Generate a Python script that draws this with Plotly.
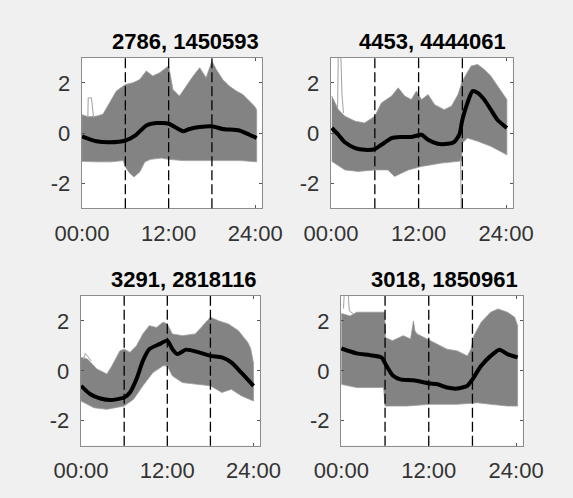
import plotly.graph_objects as go

# ---------------- data (hours of day, normalised values) ----------------
titles = ["2786, 1450593", "4453, 4444061", "3291, 2818116", "3018, 1850961"]
xtick_vals = [0, 12, 24]
xtick_text = ["00:00", "12:00", "24:00"]
ytick_vals = [-2, 0, 2]
ytick_text = ["-2", "0", "2"]
split_hours = [6, 12, 18]

# panel 1 (top left)
p1_up_h = [0.0, 0.8, 2.0, 2.9, 3.4, 4.75, 6.0, 7.06, 8.0, 8.9, 9.8, 10.75, 12.0, 12.6, 13.5, 14.4,
           15.4, 16.3, 17.2, 18.0, 18.6, 19.5, 20.4, 21.4, 22.3, 23.2, 23.9, 24.2]
p1_up = [0.73, 0.65, 0.67, 0.75, 1.0, 1.67, 1.93, 2.0, 2.13, 2.47, 2.27, 2.4, 2.67, 1.73, 1.47, 1.87,
         2.27, 2.6, 2.2, 2.87, 2.53, 2.13, 1.87, 1.67, 1.53, 1.27, 1.07, 0.93]
p1_lo_h = [0.0, 2.0, 4.0, 5.7, 6.0, 6.6, 7.2, 8.0, 8.7, 9.5, 11.0, 12.0, 14.0, 16.0, 18.0, 20.0, 22.0, 24.2]
p1_lo = [-1.13, -1.15, -1.15, -1.1, -1.35, -1.6, -1.75, -1.55, -1.15, -1.05, -1.0, -1.05, -1.1, -1.08,
         -1.1, -1.1, -1.1, -1.15]
p1_mean_h = [0.0, 2.0, 3.8, 6.0, 7.5, 8.9, 10.3, 12.0, 13.1, 14.0, 14.9, 16.3, 18.0, 19.5, 21.8, 23.2, 24.2]
p1_mean = [-0.13, -0.33, -0.37, -0.3, -0.07, 0.3, 0.4, 0.37, 0.2, 0.07, 0.16, 0.24, 0.27, 0.16, 0.1, -0.07, -0.2]
p1_out_h = [0.8, 0.85, 1.3, 1.5, 1.6]
p1_out = [0.6, 1.4, 1.4, 0.8, 0.6]

# panel 2 (top right)
p2_up_h = [0.1, 1.0, 1.9, 3.3, 4.6, 6.0, 6.9, 8.3, 9.2, 10.1, 11.0, 11.7, 12.4, 13.3, 14.2, 15.5,
           16.5, 17.4, 18.0, 19.2, 20.1, 21.0, 21.9, 22.8, 24.1]
p2_up = [1.47, 0.93, 0.67, 0.47, 0.4, 0.67, 1.2, 1.47, 1.8, 1.47, 1.33, 1.67, 1.33, 1.53, 1.13, 0.93,
         1.07, 1.53, 2.07, 2.67, 2.73, 2.53, 2.27, 1.87, 1.33]
p2_lo_h = [0.1, 1.9, 3.7, 6.0, 7.8, 8.7, 10.6, 12.4, 15.1, 17.4, 17.9, 18.0, 18.7, 20.1, 21.9, 24.1]
p2_lo = [-1.13, -1.47, -1.53, -1.47, -1.47, -1.73, -1.47, -1.33, -1.2, -1.13, -1.1, -0.4, -0.2, -0.33,
         -0.53, -0.87]
p2_mean_h = [0.1, 1.0, 1.9, 3.3, 4.6, 6.0, 6.9, 8.3, 9.6, 11.0, 12.4, 13.3, 14.6, 16.0, 16.9, 17.6, 18.0,
             18.7, 19.4, 20.1, 21.0, 21.9, 22.8, 24.1]
p2_mean = [0.2, -0.07, -0.37, -0.6, -0.67, -0.64, -0.47, -0.2, -0.16, -0.16, -0.07, -0.27, -0.43, -0.43,
           -0.35, -0.05, 0.53, 1.2, 1.67, 1.6, 1.33, 0.93, 0.53, 0.2]
p2_out_h = [0.9, 1.0, 1.3, 1.5, 1.7]
p2_out = [1.0, 3.5, 3.5, 1.5, 0.8]
p2_drop_h = [17.75, 17.85]
p2_drop = [-1.0, -3.2]

# panel 3 (bottom left)
p3_up_h = [0.0, 0.9, 2.2, 3.6, 4.3, 5.4, 6.0, 6.8, 7.7, 8.6, 9.5, 10.5, 11.4, 12.0, 12.7, 14.1, 15.9,
           17.3, 18.0, 19.1, 20.5, 21.9, 23.2, 23.6, 24.0]
p3_up = [0.54, 0.47, 0.07, -0.13, 0.2, 0.8, 0.87, 0.74, 1.0, 1.48, 1.81, 1.74, 1.95, 1.88, 1.48, 1.41,
         1.48, 1.95, 2.15, 2.01, 1.88, 1.61, 1.14, 0.9, 0.3]
p3_lo_h = [0.0, 1.8, 3.6, 6.0, 7.3, 8.6, 10.0, 11.4, 12.0, 12.7, 14.1, 15.9, 18.0, 19.6, 20.9, 22.3, 24.0]
p3_lo = [-1.21, -1.48, -1.54, -1.41, -1.14, -0.6, -0.07, 0.2, 0.2, -0.2, -0.47, -0.54, -0.6, -0.87, -0.74,
         -1.0, -1.21]
p3_mean_h = [0.0, 1.3, 2.7, 4.1, 6.0, 6.8, 7.7, 8.6, 9.5, 10.9, 12.0, 12.7, 13.4, 14.6, 16.4, 18.0, 19.6,
             20.9, 22.3, 24.0]
p3_mean = [-0.6, -0.94, -1.11, -1.17, -1.07, -0.87, -0.34, 0.4, 0.87, 1.07, 1.21, 0.87, 0.67, 0.85, 0.74,
           0.6, 0.54, 0.34, -0.07, -0.6]
p3_out_h = [0.3, 0.6, 1.0, 1.4]
p3_out = [0.45, 0.7, 0.55, 0.4]

# panel 4 (bottom right)
p4_up_h = [0.0, 1.2, 2.1, 5.7, 5.95, 6.05, 7.0, 8.5, 9.5, 9.9, 10.1, 10.4, 11.8, 13.2, 14.5, 15.9, 17.3,
           17.8, 18.2, 19.2, 20.5, 21.5, 22.8, 23.8, 24.2]
p4_up = [2.3, 2.2, 2.35, 2.35, 2.35, 1.34, 1.21, 1.41, 1.28, 2.0, 1.6, 1.48, 1.28, 1.07, 0.87, 0.8, 0.6,
         0.87, 1.41, 1.95, 2.35, 2.48, 2.35, 2.15, 1.81]
p4_lo_h = [0.0, 2.1, 5.8, 6.0, 9.0, 12.2, 15.9, 18.7, 20.5, 22.8, 24.2]
p4_lo = [-0.54, -0.67, -0.67, -1.41, -1.41, -1.34, -1.34, -1.28, -1.34, -1.41, -1.41]
p4_mean_h = [0.0, 2.1, 3.9, 5.5, 6.2, 7.1, 8.1, 9.9, 12.0, 13.2, 14.5, 15.9, 17.3, 18.0, 19.2, 20.5,
             21.7, 22.8, 24.2]
p4_mean = [0.9, 0.7, 0.63, 0.54, 0.2, -0.2, -0.34, -0.38, -0.5, -0.54, -0.67, -0.71, -0.6, -0.34, 0.2,
           0.6, 0.85, 0.67, 0.54]
p4_out_h = [0.3, 0.4, 0.9, 1.1, 1.6]
p4_out = [2.5, 3.2, 3.2, 2.4, 2.3]

panels = [
    dict(up_h=p1_up_h, up=p1_up, lo_h=p1_lo_h, lo=p1_lo, m_h=p1_mean_h, m=p1_mean,
         outs=[(p1_out_h, p1_out)]),
    dict(up_h=p2_up_h, up=p2_up, lo_h=p2_lo_h, lo=p2_lo, m_h=p2_mean_h, m=p2_mean,
         outs=[(p2_out_h, p2_out), (p2_drop_h, p2_drop)]),
    dict(up_h=p3_up_h, up=p3_up, lo_h=p3_lo_h, lo=p3_lo, m_h=p3_mean_h, m=p3_mean,
         outs=[(p3_out_h, p3_out)]),
    dict(up_h=p4_up_h, up=p4_up, lo_h=p4_lo_h, lo=p4_lo, m_h=p4_mean_h, m=p4_mean,
         outs=[(p4_out_h, p4_out)]),
]

# ---------------- layout (pixels of the 573x498 page) ----------------
W, H = 573, 498
boxes = [(81.7, 261.7, 57.7, 208.3), (330.7, 512.7, 57.7, 208.3),
         (80.7, 260.0, 296.0, 445.7), (341.0, 522.7, 296.0, 445.7)]
title_pos = [(185, 41), (432, 41), (184, 279), (444, 279)]

FONT = "Liberation Sans, Arial, Helvetica, sans-serif"
BAND = "#838383"

fig = go.Figure()
layout = dict(width=W, height=H, margin=dict(l=0, r=0, t=0, b=0, autoexpand=False),
              paper_bgcolor="#f0f0f0", plot_bgcolor="#ffffff", showlegend=False,
              font=dict(family=FONT, size=22, color="#333333"))
shapes, annotations = [], []

for i, (p, box) in enumerate(zip(panels, boxes)):
    sfx = "" if i == 0 else str(i + 1)
    xa, ya = "x" + sfx, "y" + sfx
    # band of all curves (envelope)
    bx = list(p["up_h"]) + list(reversed(p["lo_h"]))
    by = list(p["up"]) + list(reversed(p["lo"]))
    fig.add_trace(go.Scatter(x=bx, y=by, mode="lines", fill="toself", fillcolor=BAND,
                             line=dict(color="#9a9a9a", width=0.8), xaxis=xa, yaxis=ya,
                             hoverinfo="skip"))
    for oh, ov in p["outs"]:
        fig.add_trace(go.Scatter(x=oh, y=ov, mode="lines", line=dict(color="#a0a0a0", width=1),
                                 xaxis=xa, yaxis=ya, hoverinfo="skip"))
    fig.add_trace(go.Scatter(x=p["m_h"], y=p["m"], mode="lines",
                             line=dict(color="#000000", width=4, shape="spline", smoothing=0.6),
                             xaxis=xa, yaxis=ya))
    for h in split_hours:
        shapes.append(dict(type="line", xref=xa, yref=ya + " domain", x0=h, x1=h, y0=0, y1=1,
                           line=dict(color="#000000", width=1.3, dash="10px,4px")))
    x0, x1, y0, y1 = box
    common = dict(showgrid=False, zeroline=False, showline=True, linecolor="#8c8c8c", linewidth=1,
                  mirror="ticks", ticks="inside", ticklen=3, tickcolor="#555555", automargin=False,
                  tickfont=dict(family=FONT, size=22, color="#333333"))
    layout["xaxis" + sfx] = dict(domain=[x0 / W, x1 / W], range=[-0.05, 24.9], anchor=ya,
                                 tickvals=xtick_vals, ticktext=xtick_text,
                                 ticklabelstandoff=5, **common)
    layout["yaxis" + sfx] = dict(domain=[1 - y1 / H, 1 - y0 / H], range=[-3, 3], anchor=xa,
                                 tickvals=ytick_vals, ticktext=ytick_text,
                                 ticklabelstandoff=6, **common)
    tx, ty = title_pos[i]
    annotations.append(dict(text="<b>" + titles[i] + "</b>", xref="paper", yref="paper",
                            x=tx / W, y=1 - ty / H, xanchor="center", yanchor="middle",
                            showarrow=False, font=dict(family=FONT, size=22, color="#000000")))

layout["shapes"] = shapes
layout["annotations"] = annotations
fig.update_layout(**layout)
fig.write_html("out.html", config={"displayModeBar": False},
               post_script="document.body.style.margin='0';"
                           "document.body.style.background='#f0f0f0';")
